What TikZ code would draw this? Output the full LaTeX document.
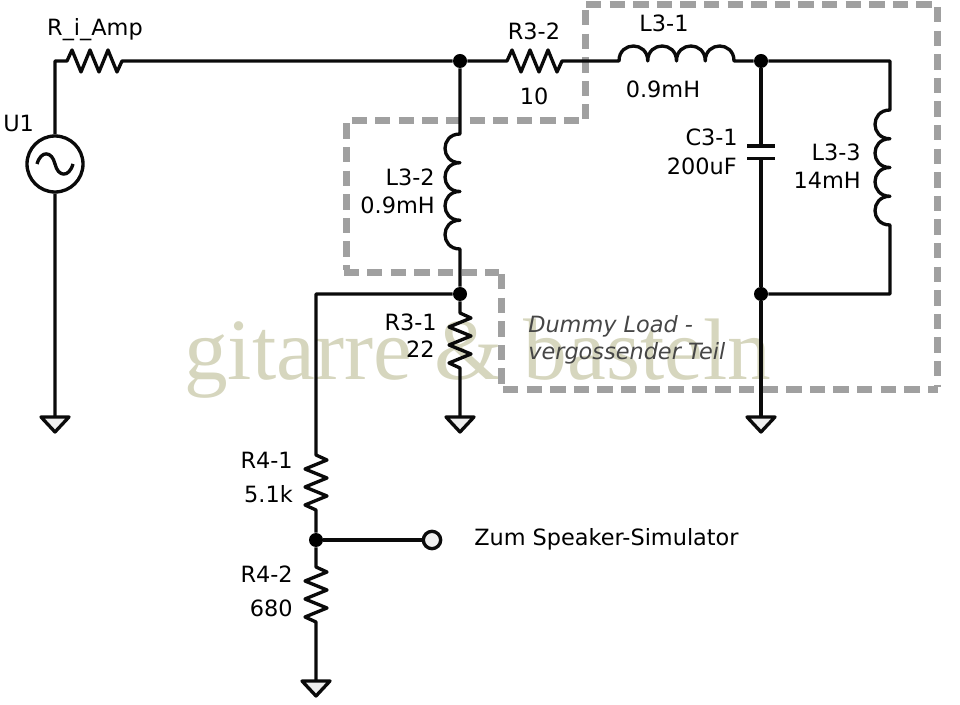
\documentclass[tikz,border=0pt]{standalone}
\usepackage{fontspec}
\usepackage{tikz}
\setmainfont{DejaVu Sans}
\newfontfamily\markfont{Liberation Serif}
\definecolor{wireBlack}{RGB}{10,10,10}
\definecolor{boxGrey}{RGB}{160,160,160}
\definecolor{markOlive}{RGB}{214,214,190}
\definecolor{pinFill}{RGB}{238,238,238}
\definecolor{noteGrey}{RGB}{70,70,70}
\newcommand{\zigright}{-- ++(5,-11) -- ++(9,22) -- ++(9,-22) -- ++(9,22) -- ++(9,-22) -- ++(9,22) -- ++(5,-11)}
\newcommand{\zigdown}{-- ++(11,5) -- ++(-22,9) -- ++(22,9) -- ++(-22,9) -- ++(22,9) -- ++(-22,9) -- ++(11,5)}
\newcommand{\bumpright}{.. controls +(0,-20) and +(0,-20) .. ++(28.75,0)}
\newcommand{\bumpdown}{.. controls +(-20,0) and +(-20,0) .. ++(0,28.75)}
\newcommand{\lblsize}{\fontsize{16.8}{20}\selectfont}
\tikzset{
	wire/.style={draw=wireBlack, line width=2.5pt, line join=round},
	resright/.style={to path={\zigright}},
	resdown/.style={to path={\zigdown}},
	coilright/.style={to path={\bumpright \bumpright \bumpright \bumpright}},
	coildown/.style={to path={\bumpdown \bumpdown \bumpdown \bumpdown}},
	junction/.style={circle, fill=black, inner sep=0pt, minimum size=10.5pt},
	terminal/.style={circle, wire, fill=pinFill, inner sep=0pt, minimum size=13pt},
	source/.style={circle, wire, inner sep=0pt, minimum size=42pt},
	lblright/.style={anchor=base east, inner sep=0pt, font=\lblsize},
	lblleft/.style={anchor=base west, inner sep=0pt, font=\lblsize},
	lblmid/.style={anchor=base, inner sep=0pt, font=\lblsize},
	note/.style={lblleft, text=noteGrey, font=\lblsize\itshape},
	dummybox/.style={draw=boxGrey, line width=5.25pt, dash pattern=on 11.5pt off 6.2pt},
	gnd/.pic={\draw[wire, fill=pinFill] (-14,0) -- (14,0) -- (0,15) -- cycle;}
}

\begin{document}
\begin{tikzpicture}[x=0.75pt, y=-0.75pt]
	\useasboundingbox (0,0) rectangle (960,705);

	\node[anchor=base west, inner sep=0pt, text=markOlive, font=\fontsize{65.5}{70}\selectfont\markfont] (mark) at (184,380) {gitarre \& basteln};

	% dummy load outline
	\foreach \xa/\ya/\xb/\yb in {586/5/934/5, 937/7/937/387, 503/390/938/390, 501.5/274/501.5/385, 343.5/272.5/499/272.5, 346/123.5/346/270, 351.5/121/582/121, 585.7/10/585.7/119}
		\draw[dummybox] (\xa,\ya) -- (\xb,\yb);

	% junctions and pins
	\node[junction] (jtop) at (460,61) {};
	\node[junction] (jlow) at (460,294) {};
	\node[junction] (jout) at (761,61) {};
	\node[junction] (jret) at (761,294) {};
	\node[junction] (jdiv) at (316,540) {};
	\node[terminal] (sim) at (432,540) {};
	\node[source] (u1) at (55,164) {};
	\coordinate (corner) at (55,61);
	\coordinate (ria) at (67,61);
	\coordinate (rib) at (122,61);
	\coordinate (r32a) at (507,61);
	\coordinate (r32b) at (562,61);
	\coordinate (l31a) at (619,61);
	\coordinate (l31b) at (734,61);
	\coordinate (l32a) at (460,134);
	\coordinate (l32b) at (460,249);
	\coordinate (l33a) at (890,110);
	\coordinate (l33b) at (890,225);
	\coordinate (c31a) at (761,146);
	\coordinate (c31b) at (761,158.5);
	\coordinate (r31a) at (460,313);
	\coordinate (r31b) at (460,368);
	\coordinate (r41a) at (316,455);
	\coordinate (r41b) at (316,510);
	\coordinate (r42a) at (316,567);
	\coordinate (r42b) at (316,622);
	\coordinate (topright) at (890,61);
	\coordinate (botright) at (890,294);
	\coordinate (tap) at (316,294);
	\coordinate (g1) at (55,417);
	\coordinate (g2) at (460,417);
	\coordinate (g3) at (761,417);
	\coordinate (g4) at (316,681);

	% signal path
	\draw[wire] (g1) -- (u1) -- (corner) -- (ria) to[resright] (rib) -- (jtop) -- (r32a) to[resright] (r32b) -- (l31a) to[coilright] (l31b) -- (jout) -- (topright) -- (l33a) to[coildown] (l33b) -- (botright) -- (jret);
	\draw[wire] (jtop) -- (l32a) to[coildown] (l32b) -- (jlow) -- (r31a) to[resdown] (r31b) -- (g2);
	\draw[wire] (jout) -- (c31a) (c31b) -- (jret) -- (g3);
	\draw[wire] (c31a) ++(-14,0) -- ++(28,0) (c31b) ++(-14,0) -- ++(28,0);
	\draw[wire] (jlow) -- (tap) -- (r41a) to[resdown] (r41b) -- (jdiv) -- (r42a) to[resdown] (r42b) -- (g4);
	\draw[wire] (jdiv) -- (sim);
	\draw[wire] (u1.center) ++(-18,0) .. controls +(4,-14) and +(-3,-13) .. ++(18,0) .. controls +(3,13) and +(-4,14) .. ++(18,0);

	\pic at (g1) {gnd};
	\pic at (g2) {gnd};
	\pic at (g3) {gnd};
	\pic at (g4) {gnd};

	\node[lblmid] (riname) at (95,36) {R\_i\_Amp};
	\node[lblleft] (u1name) at (3,132) {U1};
	\node[lblmid] (r32name) at (534,40) {R3-2};
	\node[lblmid] (r32val) at (534,105) {10};
	\node[lblmid] (l31name) at (664,32) {L3-1};
	\node[lblmid] (l31val) at (663,98) {0.9mH};
	\node[lblright] (l32name) at (435,186) {L3-2};
	\node[lblright] (l32val) at (435,214) {0.9mH};
	\node[lblright] (c31name) at (738,146) {C3-1};
	\node[lblright] (c31val) at (737,175) {200uF};
	\node[lblright] (l33name) at (861,161) {L3-3};
	\node[lblright] (l33val) at (861,189) {14mH};
	\node[lblright] (r31name) at (437,331) {R3-1};
	\node[lblright] (r31val) at (435,358) {22};
	\node[lblright] (r41name) at (293,469) {R4-1};
	\node[lblright] (r41val) at (293,503) {5.1k};
	\node[lblright] (r42name) at (293,582) {R4-2};
	\node[lblright] (r42val) at (293,616) {680};
	\node[lblleft] (simname) at (474,546) {Zum Speaker-Simulator};
	\node[note] (note1) at (528,333) {Dummy Load -};
	\node[note] (note2) at (528,360) {vergossender Teil};
\end{tikzpicture}
\end{document}
